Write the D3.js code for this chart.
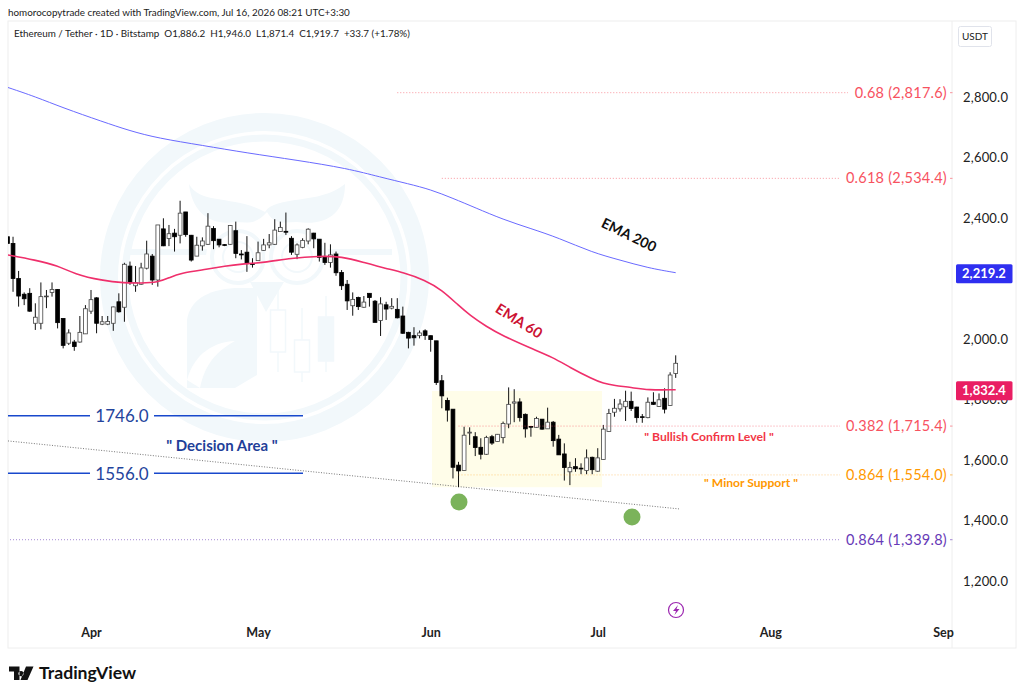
<!DOCTYPE html>
<html>
<head>
<meta charset="utf-8">
<script src="https://cdn.jsdelivr.net/npm/d3@7"></script>
<style>
	html, body { margin: 0; padding: 0; background: #fff; overflow: hidden; }
	text { font-family: Lato, "Open Sans", "Noto Sans", sans-serif; }
</style>
</head>
<body>
<div id="chart"></div>
<script>
// candles, Mar 17 -> Jul 15
const opens = [2338,2316,2200,2148,2151,2052,2052,2140,2154,2164,2068,1986,1990,1990,2017,2092,2136,2049,2049,2052,2123,2105,2241,2176,2181,2234,2274,2195,2364,2332,2350,2343,2420,2343,2274,2308,2313,2365,2330,2312,2313,2358,2281,2287,2249,2259,2293,2311,2313,2355,2356,2333,2280,2303,2324,2350,2330,2272,2253,2281,2220,2181,2110,2137,2105,2151,2125,2061,2113,2102,2098,2076,2022,2011,2011,2027,2011,1994,1862,1797,1768,1583,1565,1689,1677,1642,1619,1677,1661,1674,1719,1788,1792,1751,1711,1708,1735,1703,1725,1669,1620,1561,1578,1573,1565,1609,1563,1602,1694,1758,1769,1776,1794,1775,1743,1740,1791,1777,1804,1780,1886.2];
const highs = [2345,2338,2225,2154,2168,2118,2187,2162,2187,2165,2068,2032,1997,2076,2112,2162,2138,2076,2076,2107,2151,2252,2256,2241,2252,2325,2281,2377,2399,2377,2364,2457,2420,2344,2338,2336,2416,2373,2330,2314,2377,2388,2294,2340,2267,2322,2331,2347,2396,2388,2418,2340,2316,2333,2366,2351,2330,2318,2313,2289,2228,2195,2154,2140,2142,2151,2129,2138,2123,2135,2135,2107,2024,2039,2028,2032,2011,1994,1881,1806,1768,1594,1710,1708,1692,1672,1680,1683,1686,1727,1840,1834,1804,1754,1711,1743,1735,1773,1729,1683,1655,1594,1606,1589,1635,1611,1639,1716,1769,1802,1801,1829,1826,1776,1752,1807,1824,1820,1837,1890,1946];
const lows = [2310,2156,2107,2112,2090,2030,2032,2102,2140,2035,1969,1980,1961,1988,2017,2083,2019,2046,2046,2027,2087,2057,2179,2156,2179,2230,2179,2173,2307,2307,2289,2316,2338,2256,2274,2292,2311,2297,2303,2307,2311,2267,2263,2222,2236,2259,2292,2300,2311,2355,2344,2278,2264,2300,2313,2300,2256,2245,2236,2209,2162,2096,2077,2096,2103,2107,2055,2010,2063,2098,2068,2017,1969,1978,2002,1997,1958,1848,1771,1727,1539,1510,1565,1650,1613,1602,1617,1650,1661,1655,1705,1725,1727,1674,1677,1707,1700,1703,1644,1617,1532,1517,1561,1553,1553,1553,1561,1602,1694,1743,1760,1729,1762,1723,1723,1738,1782,1776,1754,1780,1871.4];
const closes = [2316,2200,2142,2133,2092,2072,2140,2142,2164,2054,1979,2020,1975,2022,2100,2130,2052,2057,2058,2106,2090,2247,2186,2186,2235,2281,2195,2377,2308,2348,2338,2416,2345,2261,2310,2324,2373,2325,2311,2311,2375,2283,2278,2250,2247,2285,2311,2318,2360,2369,2353,2287,2311,2326,2363,2331,2270,2253,2278,2219,2176,2126,2131,2107,2122,2137,2055,2116,2099,2108,2070,2019,2003,2004,2020,2012,1998,1856,1812,1765,1576,1564,1682,1692,1641,1619,1674,1656,1685,1721,1784,1792,1740,1703,1709,1737,1702,1725,1664,1617,1575,1575,1571,1571,1607,1568,1607,1702,1754,1771,1785,1794,1770,1740,1741,1791,1784,1799,1768,1881,1919.7];

// EMA lines, sampled at some candles only (candle number, value)
const ema60Index = [0,5,9,12,17,21,24,27,29,31,36,39,42,46,51,56,60,64,68,71,75,78,81,83,86,89,94,98,101,105,107,109,112,115,120];
const ema60Values = [2278,2261,2243,2215,2193,2185,2185,2187,2202,2218,2231,2241,2248,2252,2268,2274,2273,2253,2233,2220,2195,2162,2111,2079,2041,2010,1969,1939,1906,1868,1853,1846,1840,1831,1832.4];
const ema200Index = [0,5,10,17,22,27,35,43,52,61,67,72,76,80,84,89,94,99,105,110,115,120];
const ema200Values = [2832,2801,2764,2719,2688,2664,2640,2615,2591,2564,2535,2513,2494,2465,2434,2395,2365,2334,2286,2261,2235,2219.2];

const priceTicks = [1200,1400,1600,1800,2000,2400,2600,2800];
const monthTicks = [new Date(2026,3,1),new Date(2026,4,1),new Date(2026,5,1),new Date(2026,6,1),new Date(2026,7,1),new Date(2026,8,1)];
const firstDay = new Date(2026,2,17);

const fibLabels = ["0.68 (2,817.6)","0.618 (2,534.4)","0.382 (1,715.4)","0.864 (1,554.0)","0.864 (1,339.8)"];
const fibPrices = [2817.6,2534.4,1715.4,1554.0,1339.8];
const fibColors = ["#f7525f","#f7525f","#f7525f","#ff9800","#673ab7"];
const fibStart = [new Date(2026,4,26),new Date(2026,5,3),new Date(2026,5,6),new Date(2026,5,6),new Date(2026,2,17)];

const zoneLabels = ["1746.0","1556.0"];
const zonePrices = [1746,1556];

const width = 1024, height = 697;
const pane = {left: 8, right: 1016, top: 21, bottom: 648, axis: 952};

const svg = d3.select('#chart').append('svg')
	.attr('width', width)
	.attr('height', height);

const xScale = d3.scaleTime()
	.domain([new Date(2026,3,1), new Date(2026,8,1)])
	.range([91, 943]);
const yScale = d3.scaleLinear()
	.domain([1200, 2800])
	.range([581, 97]);

const dayAt = i => d3.timeDay.offset(firstDay, i);

svg.append('defs').append('clipPath').attr('id', 'plot')
	.append('rect')
	.attr('x', pane.left).attr('y', pane.top)
	.attr('width', pane.axis - pane.left).attr('height', pane.bottom - pane.top);

// header line above the pane
svg.append('text').attr('x', 8).attr('y', 15.5)
	.attr('font-size', 9.85).attr('fill', '#222')
	.text('homorocopytrade created with TradingView.com, Jul 16, 2026 08:21 UTC+3:30');

// frame
svg.append('rect')
	.attr('x', pane.left).attr('y', pane.top)
	.attr('width', pane.right - pane.left).attr('height', pane.bottom - pane.top)
	.attr('fill', 'none').attr('stroke', '#eeeeee');
svg.append('line')
	.attr('x1', pane.axis).attr('x2', pane.axis)
	.attr('y1', pane.top).attr('y2', pane.bottom)
	.attr('stroke', '#eeeeee');

// watermark
const wm = svg.append('g').attr('clip-path', 'url(#plot)');
const tint = '#f2f8fb';
wm.append('circle').attr('cx', 264.5).attr('cy', 277.5).attr('r', 155.5)
	.attr('fill', 'none').attr('stroke', tint).attr('stroke-width', 18);
wm.append('circle').attr('cx', 264.5).attr('cy', 277.5).attr('r', 139.5)
	.attr('fill', 'none').attr('stroke', tint).attr('stroke-width', 7);
wm.append('rect').attr('x', 130).attr('y', 249).attr('width', 262).attr('height', 6).attr('fill', tint);
[[238, 257], [297, 257]].forEach(p => {
	wm.append('circle').attr('cx', p[0]).attr('cy', p[1]).attr('r', 32).attr('fill', '#fff');
	wm.append('circle').attr('cx', p[0]).attr('cy', p[1]).attr('r', 26)
		.attr('fill', 'none').attr('stroke', tint).attr('stroke-width', 4);
	wm.append('circle').attr('cx', p[0]).attr('cy', p[1]).attr('r', 15)
		.attr('fill', 'none').attr('stroke', tint).attr('stroke-width', 2);
});
wm.append('path').attr('fill', tint)
	.attr('d', 'M189,184 C200,205 235,195 265,212 C275,195 320,205 345,184 C345,215 325,226 297,222 C285,222 275,226 267,212 C255,226 245,222 235,222 C210,226 192,212 189,184Z');
wm.append('path').attr('fill', tint)
	.attr('d', 'M250,282 L284,282 L266,312Z');
wm.append('path').attr('fill', tint)
	.attr('d', 'M187,388 L187,320 C190,298 212,288 240,288 L257,288 L257,375 L235,388Z');
wm.append('path').attr('fill', '#fff')
	.attr('d', 'M187,380 C195,352 215,342 235,341 C215,352 205,365 200,388Z');
[[278, 290, 372, 310, 352, false], [302, 308, 382, 340, 372, false], [326, 296, 372, 317, 361, true]].forEach(c => {
	wm.append('line').attr('x1', c[0]).attr('x2', c[0]).attr('y1', c[1]).attr('y2', c[2])
		.attr('stroke', tint).attr('stroke-width', 1.5);
	wm.append('rect').attr('x', c[0] - 7.5).attr('y', c[3]).attr('width', 15).attr('height', c[4] - c[3])
		.attr('fill', c[5] ? tint : '#fff').attr('stroke', tint).attr('stroke-width', 1.5);
});

const plot = svg.append('g').attr('clip-path', 'url(#plot)');

// yellow box
plot.append('rect')
	.attr('x', 432).attr('y', yScale(1828))
	.attr('width', 170).attr('height', yScale(1510) - yScale(1828))
	.attr('fill', '#fffde9');

// trend line
plot.append('line')
	.attr('x1', pane.left).attr('y1', yScale(1663))
	.attr('x2', 680).attr('y2', yScale(1438))
	.attr('stroke', '#777').attr('stroke-dasharray', '1 1.6');

// fib levels
const fibG = svg.append('g').selectAll('g')
	.data(fibLabels.map((d, i) => ({label: d, price: fibPrices[i], color: fibColors[i], start: fibStart[i]})))
	.enter().append('g');
fibG.append('line')
	.attr('x1', d => Math.max(xScale(d.start), 10)).attr('x2', (d, i) => i === 0 ? 848 : 840)
	.attr('y1', d => yScale(d.price) + 1).attr('y2', d => yScale(d.price) + 1)
	.attr('stroke', d => d.color).attr('stroke-opacity', d => d.price === 1554 ? 0.45 : 0.6)
	.attr('stroke-dasharray', '1 2');
fibG.append('line')
	.attr('x1', 950).attr('x2', 952.5)
	.attr('y1', d => yScale(d.price) + 1).attr('y2', d => yScale(d.price) + 1)
	.attr('stroke', d => d.color).attr('stroke-opacity', 0.6);
fibG.append('text')
	.attr('x', 947).attr('y', d => yScale(d.price) + 6)
	.attr('text-anchor', 'end')
	.attr('font-size', 14.5).attr('letter-spacing', 0.25)
	.attr('fill', d => d.color)
	.text(d => d.label);

// zone lines
const zoneG = svg.append('g').selectAll('g')
	.data(zoneLabels.map((d, i) => ({label: d, price: zonePrices[i]})))
	.enter().append('g');
zoneG.append('line').attr('x1', pane.left).attr('x2', 90)
	.attr('y1', d => yScale(d.price)).attr('y2', d => yScale(d.price))
	.attr('stroke', '#1848cc').attr('stroke-width', 1.5);
zoneG.append('line').attr('x1', 154).attr('x2', 303)
	.attr('y1', d => yScale(d.price)).attr('y2', d => yScale(d.price))
	.attr('stroke', '#1848cc').attr('stroke-width', 1.5);
zoneG.append('text')
	.attr('x', 122).attr('y', d => yScale(d.price) + 6.5)
	.attr('text-anchor', 'middle')
	.attr('font-size', 17).attr('fill', '#24449c')
	.text(d => d.label);

// candles
const candles = opens.map((o, i) => ({day: dayAt(i), o: o, h: highs[i], l: lows[i], c: closes[i]}));
const candleG = plot.append('g').selectAll('g').data(candles).enter().append('g');
candleG.append('line')
	.attr('x1', d => xScale(d.day)).attr('x2', d => xScale(d.day))
	.attr('y1', d => yScale(d.h)).attr('y2', d => yScale(d.l))
	.attr('stroke', '#111').attr('stroke-width', 1);
candleG.append('rect')
	.attr('x', d => xScale(d.day) - 1.9).attr('width', 3.8)
	.attr('y', d => yScale(Math.max(d.o, d.c)))
	.attr('height', d => Math.max(0.8, Math.abs(yScale(d.o) - yScale(d.c))))
	.attr('fill', d => d.c >= d.o ? '#fff' : '#000')
	.attr('stroke', d => d.c >= d.o ? '#444' : '#000')
	.attr('stroke-width', 0.8);

// EMAs
const lineOf = d3.line()
	.x(d => xScale(dayAt(d[0])))
	.y(d => yScale(d[1]))
	.curve(d3.curveBasis);
plot.append('path')
	.attr('d', lineOf(ema200Index.map((d, i) => [d, ema200Values[i]])))
	.attr('fill', 'none').attr('stroke', '#6a6aff').attr('stroke-width', 1);
plot.append('path')
	.attr('d', lineOf(ema60Index.map((d, i) => [d, ema60Values[i]])))
	.attr('fill', 'none').attr('stroke', '#ef2f6b').attr('stroke-width', 1.6);

// green dots
svg.append('circle').attr('cx', 459).attr('cy', 502).attr('r', 8.5).attr('fill', '#7bb35b');
svg.append('circle').attr('cx', 632).attr('cy', 517).attr('r', 8.5).attr('fill', '#7bb35b');

// notes
svg.append('text').attr('x', 222).attr('y', 451).attr('text-anchor', 'middle')
	.attr('font-size', 15).attr('font-weight', 700).attr('fill', '#1f3f99')
	.text('" Decision Area "');
svg.append('text').attr('x', 709).attr('y', 441).attr('text-anchor', 'middle')
	.attr('font-size', 12.2).attr('font-weight', 700).attr('fill', '#f23645')
	.text('" Bullish Confirm Level "');
svg.append('text').attr('x', 751).attr('y', 487).attr('text-anchor', 'middle')
	.attr('font-size', 12.1).attr('font-weight', 700).attr('fill', '#ff9800')
	.text('" Minor Support "');
svg.append('text').attr('transform', 'translate(629,235) rotate(26)').attr('text-anchor', 'middle')
	.attr('dy', 5).attr('font-size', 14.2).attr('font-weight', 700).attr('fill', '#111')
	.text('EMA 200');
svg.append('text').attr('transform', 'translate(519,321) rotate(32)').attr('text-anchor', 'middle')
	.attr('dy', 5).attr('font-size', 14.5).attr('font-weight', 700).attr('fill', '#cc1233')
	.text('EMA 60');

// flash icon
svg.append('circle').attr('cx', 676).attr('cy', 610).attr('r', 7.5)
	.attr('fill', '#fff').attr('stroke', '#9c27b0').attr('stroke-width', 1.2);
svg.append('path').attr('fill', '#9c27b0')
	.attr('d', 'M678,605 L673,611 L676,611 L674.5,615 L679.5,609 L676.5,609Z');

// axes
const yAxis = d3.axisRight(yScale)
	.tickValues(priceTicks)
	.tickFormat(d3.format(',.1f'))
	.tickSize(0)
	.tickPadding(11);
const yAxisG = svg.append('g').attr('transform', 'translate(' + pane.axis + ',0)').call(yAxis);
yAxisG.select('.domain').remove();
yAxisG.selectAll('text').attr('font-size', 13).attr('letter-spacing', 0.2).attr('fill', '#222').style('font-family', null);

const xAxis = d3.axisBottom(xScale)
	.tickValues(monthTicks)
	.tickFormat(d3.timeFormat('%b'))
	.tickSize(0)
	.tickPadding(0);
const xAxisG = svg.append('g').attr('transform', 'translate(0,628)').call(xAxis);
xAxisG.select('.domain').remove();
xAxisG.selectAll('text').attr('font-size', 12.5).attr('font-weight', 700).attr('fill', '#222').style('font-family', null);

// price tags
const tagData = [[2219.2, '#2f2ff0'], [1832.4, '#e91e63']];
const tags = svg.append('g').selectAll('g').data(tagData).enter().append('g');
tags.append('rect')
	.attr('x', 956).attr('width', 56.5)
	.attr('y', d => yScale(d[0]) - 8.5).attr('height', 19)
	.attr('rx', 1.5)
	.attr('fill', d => d[1]);
tags.append('text')
	.attr('x', 984).attr('y', d => yScale(d[0]) + 5.5)
	.attr('text-anchor', 'middle')
	.attr('font-size', 13).attr('font-weight', 700).attr('fill', '#fff')
	.text(d => d3.format(',.1f')(d[0]));

// currency box
svg.append('rect').attr('x', 958.5).attr('y', 26.5).attr('width', 33).attr('height', 20).attr('rx', 2)
	.attr('fill', '#fff').attr('stroke', '#e0e3eb');
svg.append('text').attr('x', 975).attr('y', 40).attr('text-anchor', 'middle')
	.attr('font-size', 10).attr('fill', '#222').text('USDT');

// legend
svg.append('text').attr('x', 14).attr('y', 36.5)
	.attr('font-size', 9.85).attr('fill', '#222').attr('xml:space', 'preserve')
	.text('Ethereum / Tether · 1D · Bitstamp  O1,886.2  H1,946.0  L1,871.4  C1,919.7  +33.7 (+1.78%)');

// logo
svg.append('path').attr('fill', '#111')
	.attr('d', 'M9,666.5 H19.5 V680 H14 V671.5 H9Z M21,671 a2.6,2.6 0 1 0 0.01,0Z M26,666.5 H33.5 L27.5,680 H20.5Z');
svg.append('text').attr('x', 39).attr('y', 679)
	.attr('font-size', 17.6).attr('font-weight', 700).attr('fill', '#111')
	.text('TradingView');
</script>
</body>
</html>
